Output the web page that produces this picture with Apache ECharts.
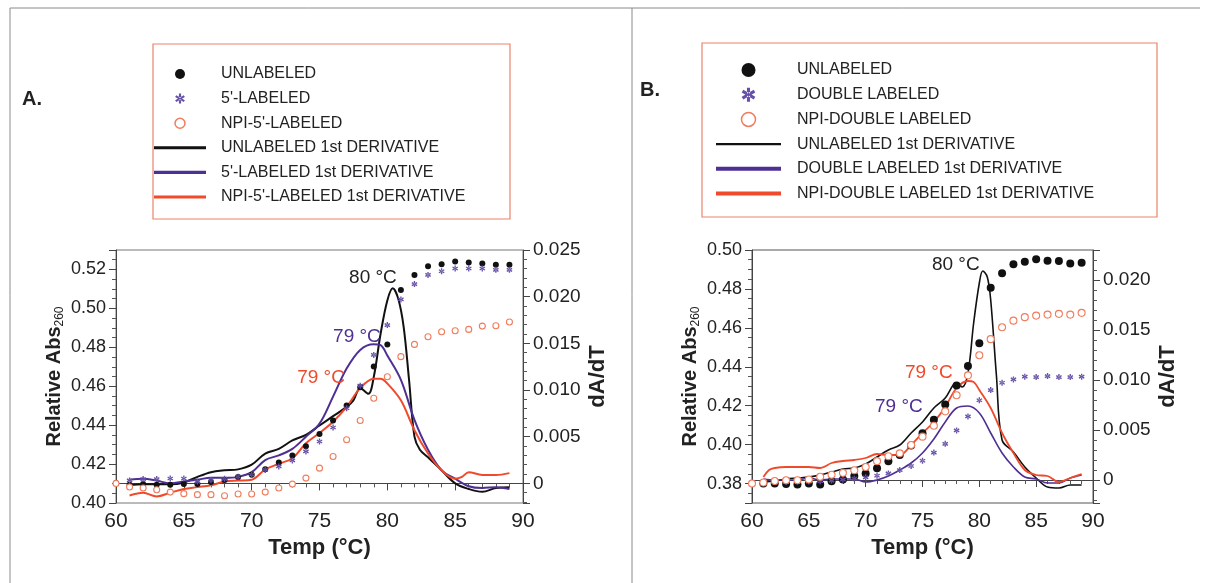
<!DOCTYPE html>
<html lang="en">
<head>
<meta charset="UTF-8">
<title>Melting curves A / B</title>
<script src="https://cdn.jsdelivr.net/npm/echarts@6.0.0/dist/echarts.min.js"></script>
<style>
    html, body { margin: 0; padding: 0; background: #fff; }
    #chart { width: 1206px; height: 583px; }
</style>
</head>
<body>
<div id="chart"></div>
<script>
    // ---------- panel A : absorbance points ----------
    var tempsA = [60,61,62,63,64,65,66,67,68,69,70,71,72,73,74,75,76,77,78,79,80,81,82,83,84,85,86,87,88,89];
    var unlabeledA = [0.4103,0.4094,0.4097,0.4094,0.4094,0.4097,0.4097,0.4108,0.4118,0.4133,0.4145,0.4174,0.4208,0.4244,0.4292,0.4354,0.4424,0.4501,0.4595,0.4701,0.4815,0.5094,0.5171,0.5217,0.5227,0.5241,0.5236,0.5231,0.5224,0.5224];
    var labeled5A = [null,0.4116,0.4123,0.4123,0.4126,0.4126,0.4110,0.4118,0.4124,0.4135,0.4145,0.4170,0.4188,0.4219,0.4265,0.4316,0.4388,0.4487,0.4603,0.4761,0.4914,0.5046,0.5125,0.5172,0.5191,0.5205,0.5205,0.5205,0.5198,0.5198];
    var npiA = [0.4100,0.4082,0.4077,0.4068,0.4056,0.4048,0.4043,0.4043,0.4037,0.4046,0.4046,0.4056,0.4077,0.4097,0.4128,0.4179,0.4239,0.4325,0.4424,0.4538,0.4649,0.4752,0.4815,0.4854,0.4880,0.4885,0.4892,0.4909,0.4911,0.4930];

    // ---------- panel A : 1st derivatives ----------
    var dUnlabTempsA = [61,62,63,64,65,66,67,68,69,70,71,72,73,74,75,76,77,77.5,78,78.6,79,79.5,80,80.4,80.8,81.2,81.6,82,82.4,83,84,85,86,87,88,89];
    var dUnlabA = [-0.0002,-0.0001,-0.0001,-0.0001,0.0001,0.0007,0.0012,0.0014,0.0015,0.0020,0.0032,0.0037,0.0046,0.0052,0.0062,0.0072,0.0082,0.0089,0.0102,0.0096,0.0114,0.0160,0.0196,0.0209,0.0198,0.0168,0.0111,0.0050,0.0036,0.0028,0.0014,0.0000,-0.0006,-0.0009,-0.0005,-0.0004];
    var d5TempsA = [61,62,63,64,65,66,67,68,69,70,71,72,73,74,75,76,77,78,79,79.5,80,81,82,83,84,85,86,87,88,89];
    var d5A = [0.0004,0.0005,0.0003,0.0000,0.0002,0.0004,0.0006,0.0006,0.0007,0.0012,0.0025,0.0030,0.0037,0.0050,0.0064,0.0093,0.0123,0.0143,0.0149,0.0148,0.0137,0.0111,0.0068,0.0036,0.0014,0.0005,-0.0003,-0.0005,-0.0004,-0.0006];
    var dNpiTempsA = [61,62,63,64,65,66,67,68,69,70,71,72,73,74,75,76,77,78,79,79.5,80,81,82,83,84,85,85.5,86,87,88,89];
    var dNpiA = [-0.0013,-0.0010,-0.0014,-0.0010,-0.0006,-0.0004,-0.0002,0.0002,0.0003,0.0004,0.0015,0.0021,0.0027,0.0043,0.0054,0.0066,0.0082,0.0102,0.0112,0.0112,0.0107,0.0089,0.0057,0.0032,0.0014,0.0005,0.0007,0.0012,0.0009,0.0009,0.0011];

    // ---------- panel B : absorbance points ----------
    var tempsB = [60,61,62,63,64,65,66,67,68,69,70,71,72,73,74,75,76,77,78,79,80,81,82,83,84,85,86,87,88,89];
    var unlabeledB = [null,0.3800,0.3800,0.3797,0.3795,0.3800,0.3795,0.3812,0.3821,0.3839,0.3852,0.3878,0.3914,0.3947,0.3995,0.4059,0.4128,0.4206,0.4304,0.4404,0.4521,0.4806,0.4881,0.4927,0.4940,0.4952,0.4945,0.4943,0.4931,0.4935];
    var doubleB = [null,0.3805,0.3808,0.3808,0.3810,0.3810,0.3812,0.3815,0.3820,0.3825,0.3832,0.3840,0.3852,0.3869,0.3890,0.3917,0.3959,0.4004,0.4073,0.4145,0.4228,0.4280,0.4318,0.4335,0.4349,0.4347,0.4352,0.4347,0.4347,0.4349];
    var npiB = [0.3800,0.3805,0.3813,0.3817,0.3817,0.3821,0.3835,0.3845,0.3855,0.3868,0.3885,0.3915,0.3940,0.3955,0.3998,0.4041,0.4097,0.4171,0.4254,0.4356,0.4459,0.4542,0.4603,0.4637,0.4655,0.4663,0.4668,0.4672,0.4668,0.4677];

    // ---------- panel B : 1st derivatives ----------
    var dUnlabTempsB = [61,62,63,64,65,66,67,68,69,70,71,72,73,74,75,76,77,77.7,78,78.5,79,79.5,80,80.3,80.7,81,81.5,82,83,84,85,86,87,88,89];
    var dUnlabB = [-0.0002,-0.0001,0.0001,0.0002,0.0003,0.0005,0.0008,0.0011,0.0012,0.0016,0.0023,0.0030,0.0035,0.0047,0.0058,0.0072,0.0082,0.0095,0.0097,0.0093,0.0107,0.0157,0.0197,0.0209,0.0203,0.0180,0.0105,0.0040,0.0028,0.0013,0.0002,-0.0007,-0.0008,-0.0005,-0.0005];
    var dDoubleTempsB = [61,62,63,64,65,66,67,68,69,70,71,72,73,74,75,76,77,78,79,80,81,82,83,84,85,86,87,88,89];
    var dDoubleB = [0.0001,0.0000,0.0000,0.0000,0.0002,0.0000,0.0001,0.0001,0.0001,-0.0002,0.0000,0.0004,0.0010,0.0017,0.0027,0.0041,0.0058,0.0072,0.0074,0.0067,0.0047,0.0027,0.0013,0.0003,0.0001,-0.0003,-0.0003,0.0002,0.0005];
    var dNpiTempsB = [61,61.5,62,63,64,65,66,67,68,69,70,71,72,73,74,75,76,77,78,79,79.5,80,81,82,83,84,85,86,87,88,89];
    var dNpiB = [0.0003,0.0010,0.0012,0.0013,0.0013,0.0013,0.0012,0.0017,0.0019,0.0020,0.0022,0.0026,0.0025,0.0025,0.0035,0.0047,0.0058,0.0073,0.0092,0.0099,0.0098,0.0090,0.0072,0.0047,0.0027,0.0010,0.0005,0.0004,-0.0002,0.0002,0.0006];

    // peak annotations: [text, temp, dA/dT] where the text sits
    var notesA = [['80 °C', 78.94, 0.0220], ['79 °C', 77.76, 0.0157], ['79 °C', 75.11, 0.0113]];
    var notesB = [['80 °C', 77.93, 0.0215], ['79 °C', 72.92, 0.0073], ['79 °C', 75.55, 0.0107]];

    var namesA = ['UNLABELED', "5'-LABELED", "NPI-5'-LABELED", 'UNLABELED 1st DERIVATIVE', "5'-LABELED 1st DERIVATIVE", "NPI-5'-LABELED 1st DERIVATIVE"];
    var namesB = ['UNLABELED', 'DOUBLE LABELED', 'NPI-DOUBLE LABELED', 'UNLABELED 1st DERIVATIVE', 'DOUBLE LABELED 1st DERIVATIVE', 'NPI-DOUBLE LABELED 1st DERIVATIVE'];

    var BLACK = '#111111', PURPLE = '#4e2f93', PURPLE_PT = '#6650a8', RED = '#ee4a2b', ORANGE_PT = '#ef7d5d';
    // asterisk built from three thick bars
    var STAR = 'path://M3.9,0L6.1,0L6.1,10L3.9,10Z M0.15,3.45L8.75,8.45L9.85,6.55L1.25,1.55Z M1.25,8.45L9.85,3.45L8.75,1.55L0.15,6.55Z';
    var THIN_LINE = 'path://M0,0H60V2H0Z';
    var THICK_LINE = 'path://M0,0H60V3.6H0Z';
    var FONT = 'Liberation Sans, Arial, Helvetica, sans-serif';

    function pairs(t, v) {
        var out = [];
        for (var i = 0; i < t.length; i++) {
            if (v[i] !== null) out.push([t[i], v[i]]);
        }
        return out;
    }

    function notePoint(note, color) {
        return {
            symbol: 'circle',
            symbolSize: 1,
            itemStyle: { color: 'rgba(0,0,0,0)' },
            label: { show: true, position: 'inside', formatter: '{b}', fontSize: 19, color: color, fontFamily: FONT },
            data: [{ name: note[0], coord: [note[1], note[2]] }]
        };
    }

    function xAxis(gridIndex) {
        return {
            type: 'value', gridIndex: gridIndex, min: 60, max: 90, interval: 5,
            name: 'Temp (°C)', nameLocation: 'middle', nameGap: 34,
            nameTextStyle: { fontSize: 22, fontWeight: 'bold', color: '#222', fontFamily: FONT },
            axisLine: { lineStyle: { color: '#444' } },
            axisTick: { length: 7, lineStyle: { color: '#444' } },
            minorTick: { show: true, splitNumber: 5, length: 4, lineStyle: { color: '#555' } },
            splitLine: { show: false },
            axisLabel: { fontSize: 21, color: '#222', margin: 8, fontFamily: FONT }
        };
    }

    function leftAxis(gridIndex, min, max, showMin, showMax) {
        return {
            type: 'value', gridIndex: gridIndex, position: 'left', min: min, max: max,
            minInterval: 0.02, maxInterval: 0.02,
            name: '{b|Relative Abs}{s|260}', nameLocation: 'middle', nameGap: 50, nameRotate: 90,
            nameTextStyle: {
                color: '#222',
                rich: {
                    b: { fontSize: 20, fontWeight: 'bold', color: '#222', fontFamily: FONT },
                    s: { fontSize: 12, color: '#222', fontFamily: FONT, padding: [12, 0, 0, 0] }
                }
            },
            axisLine: { show: true, lineStyle: { color: '#444' } },
            axisTick: { length: 7, lineStyle: { color: '#444' } },
            minorTick: { show: true, splitNumber: 4, length: 4, lineStyle: { color: '#555' } },
            splitLine: { show: false },
            axisLabel: {
                fontSize: 18, color: '#222', margin: 10, fontFamily: FONT,
                showMinLabel: showMin, showMaxLabel: showMax,
                formatter: function (v) { return v.toFixed(2); }
            }
        };
    }

    function rightAxis(gridIndex, min, max, showMin, showMax) {
        return {
            type: 'value', gridIndex: gridIndex, position: 'right', min: min, max: max,
            minInterval: 0.005, maxInterval: 0.005, alignTicks: false,
            name: 'dA/dT', nameLocation: 'middle', nameGap: 64, nameRotate: 90,
            nameTextStyle: { fontSize: 22, fontWeight: 'bold', color: '#222', fontFamily: FONT },
            axisLine: { show: true, lineStyle: { color: '#444' } },
            axisTick: { length: 7, lineStyle: { color: '#444' } },
            minorTick: { show: true, splitNumber: 5, length: 4, lineStyle: { color: '#555' } },
            splitLine: { show: false },
            axisLabel: {
                fontSize: 19, color: '#222', margin: 10, fontFamily: FONT,
                showMinLabel: showMin, showMaxLabel: showMax,
                formatter: function (v) { return Math.abs(v) < 1e-9 ? '0' : v.toFixed(3); }
            }
        };
    }

    function lineSeries(name, xi, yi, data, color, width, note) {
        return {
            name: name, type: 'line', xAxisIndex: xi, yAxisIndex: yi, data: data,
            showSymbol: false, symbol: 'none', smooth: 0.35, z: 2,
            lineStyle: { color: color, width: width },
            itemStyle: { color: color },
            markPoint: notePoint(note, color === BLACK ? '#222' : color)
        };
    }

    function scatterSeries(name, xi, yi, data, symbol, size, fill, stroke) {
        return {
            name: name, type: 'scatter', xAxisIndex: xi, yAxisIndex: yi, data: data,
            symbol: symbol, symbolSize: size, z: 3,
            itemStyle: { color: fill, borderColor: stroke, borderWidth: stroke ? 1.1 : 0, opacity: 1 }
        };
    }

    function legendItems(names, dotSize) {
        return [
            { name: names[0], icon: 'circle', itemStyle: { color: BLACK, borderWidth: 0 } },
            { name: names[1], icon: STAR, itemStyle: { color: PURPLE_PT, borderWidth: 0 } },
            { name: names[2], icon: 'circle', itemStyle: { color: '#fff', borderColor: ORANGE_PT, borderWidth: 1.5 } },
            { name: names[3], icon: dotSize > 12 ? THIN_LINE : THICK_LINE, itemStyle: { color: BLACK, borderWidth: 0 } },
            { name: names[4], icon: THICK_LINE, itemStyle: { color: PURPLE, borderWidth: 0 } },
            { name: names[5], icon: THICK_LINE, itemStyle: { color: RED, borderWidth: 0 } }
        ];
    }

    var chart = echarts.init(document.getElementById('chart'), null, { renderer: 'canvas' });

    var option = {
        animation: false,
        backgroundColor: '#fff',
        textStyle: { fontFamily: FONT },
        grid: [
            { left: 116, top: 250, width: 407, height: 253, show: true, borderColor: '#777', borderWidth: 1 },
            { left: 752, top: 250, width: 341, height: 253, show: true, borderColor: '#555', borderWidth: 1 }
        ],
        xAxis: [xAxis(0), xAxis(1)],
        yAxis: [
            leftAxis(0, 0.40, 0.53, true, false),
            rightAxis(0, -0.0021, 0.025, false, true),
            leftAxis(1, 0.37, 0.50, false, true),
            rightAxis(1, -0.0023, 0.023, false, false)
        ],
        legend: [
            {
                orient: 'vertical', left: 154, top: 65, padding: 0,
                itemWidth: 52, itemHeight: 10, itemGap: 6.6,
                textStyle: { fontSize: 16, lineHeight: 18, color: '#222', fontFamily: FONT, padding: [0, 0, 0, 10] },
                data: legendItems(namesA, 10)
            },
            {
                orient: 'vertical', left: 716, top: 61, padding: 0,
                itemWidth: 65, itemHeight: 14, itemGap: 6.7,
                textStyle: { fontSize: 16, lineHeight: 18, color: '#222', fontFamily: FONT, padding: [0, 0, 0, 11] },
                data: legendItems(namesB, 14)
            }
        ],
        graphic: [
            { type: 'line', shape: { x1: 10, y1: 8, x2: 10, y2: 583 }, style: { stroke: '#8a8a8a', lineWidth: 1 } },
            { type: 'line', shape: { x1: 10, y1: 8, x2: 1200, y2: 8 }, style: { stroke: '#8a8a8a', lineWidth: 1 } },
            { type: 'line', shape: { x1: 632, y1: 8, x2: 632, y2: 583 }, style: { stroke: '#8a8a8a', lineWidth: 1 } },
            { type: 'rect', shape: { x: 153, y: 44, width: 357, height: 175 }, style: { fill: 'none', stroke: '#e9836b', lineWidth: 1.2 } },
            { type: 'rect', shape: { x: 702, y: 43, width: 455, height: 174 }, style: { fill: 'none', stroke: '#e9836b', lineWidth: 1.2 } },
            { type: 'text', left: 22, top: 89, style: { text: 'A.', fontSize: 20, fontWeight: 'bold', fill: '#222', fontFamily: FONT } },
            { type: 'text', left: 640, top: 80, style: { text: 'B.', fontSize: 20, fontWeight: 'bold', fill: '#222', fontFamily: FONT } }
        ],
        series: [
            lineSeries(namesA[3], 0, 1, pairs(dUnlabTempsA, dUnlabA), BLACK, 2, notesA[0]),
            lineSeries(namesA[4], 0, 1, pairs(d5TempsA, d5A), PURPLE, 2, notesA[1]),
            lineSeries(namesA[5], 0, 1, pairs(dNpiTempsA, dNpiA), RED, 2, notesA[2]),
            scatterSeries(namesA[0], 0, 0, pairs(tempsA, unlabeledA), 'circle', 6, BLACK, null),
            scatterSeries(namesA[1], 0, 0, pairs(tempsA, labeled5A), STAR, 6, PURPLE_PT, null),
            scatterSeries(namesA[2], 0, 0, pairs(tempsA, npiA), 'circle', 6, '#fff', ORANGE_PT),

            lineSeries(namesB[3], 1, 3, pairs(dUnlabTempsB, dUnlabB), BLACK, 1.6, notesB[0]),
            lineSeries(namesB[4], 1, 3, pairs(dDoubleTempsB, dDoubleB), PURPLE, 1.6, notesB[1]),
            lineSeries(namesB[5], 1, 3, pairs(dNpiTempsB, dNpiB), RED, 1.8, notesB[2]),
            scatterSeries(namesB[0], 1, 2, pairs(tempsB, unlabeledB), 'circle', 8, BLACK, null),
            scatterSeries(namesB[1], 1, 2, pairs(tempsB, doubleB), STAR, 6, PURPLE_PT, null),
            scatterSeries(namesB[2], 1, 2, pairs(tempsB, npiB), 'circle', 7, '#fff', ORANGE_PT)
        ]
    };

    chart.setOption(option);
</script>
</body>
</html>
